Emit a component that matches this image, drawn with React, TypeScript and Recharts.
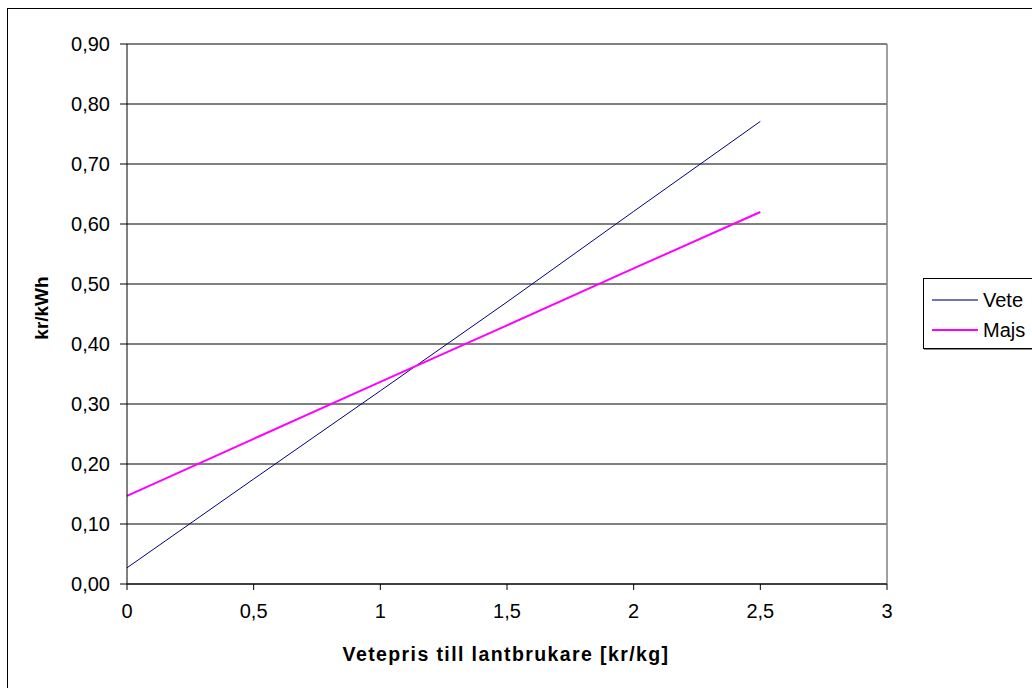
import React from "react";
import { LineChart, Line, XAxis, YAxis, CartesianGrid, ReferenceLine } from "recharts";

const xValues = [0, 0.5, 1, 1.5, 2, 2.5];
const vete = [0.027, 0.175, 0.322, 0.47, 0.621, 0.771];
const majs = [0.147, 0.242, 0.337, 0.431, 0.526, 0.62];
const xTicks = [0, 0.5, 1, 1.5, 2, 2.5, 3];
const yTicks = [0, 0.1, 0.2, 0.3, 0.4, 0.5, 0.6, 0.7, 0.8, 0.9];
const seriesNames = ["Vete", "Majs"];
const seriesColors = ["#000080", "#FF00FF"];

const data = xValues.map((x, i) => ({ x, Vete: vete[i], Majs: majs[i] }));

const FONT = "'Liberation Sans', Arial, sans-serif";

const fmtX = (v: number) => String(v).replace(".", ",");
const fmtY = (v: number) => v.toFixed(2).replace(".", ",");

const LegendBox = () => (
  <div
    style={{
      position: "absolute",
      left: 923,
      top: 278,
      width: 140,
      height: 71,
      border: "1px solid #000",
      boxShadow: "1px 1px 0 #888",
      background: "#fff",
      padding: "6px 0 0 8px",
      fontFamily: FONT,
      fontSize: 20,
      boxSizing: "border-box",
    }}
  >
    {seriesNames.map((name, i) => (
      <div key={name} style={{ display: "flex", alignItems: "center", height: 30 }}>
        <div
          style={{
            width: 46,
            height: 0,
            borderTop: `2px solid ${seriesColors[i]}`,
            opacity: i === 0 ? 0.55 : 1,
          }}
        />
        <span style={{ marginLeft: 5, color: "#000" }}>{name}</span>
      </div>
    ))}
  </div>
);

export default function App() {
  return (
    <div style={{ position: "absolute", left: 0, top: 0, width: 1032, height: 688, overflow: "hidden", background: "#fff" }}>
      <div style={{ position: "absolute", left: 7, top: 8, width: 1100, height: 800, border: "1px solid #000", boxSizing: "border-box" }} />
      <div style={{ position: "absolute", left: 0, top: 0 }}>
        <LineChart
          width={1032}
          height={688}
          data={data}
          margin={{ top: 44, right: 145, bottom: 14, left: 0 }}
        >
          <CartesianGrid vertical={false} stroke="#000" strokeWidth={1} />
          <XAxis
            dataKey="x"
            type="number"
            domain={[0, 3]}
            ticks={xTicks}
            tickFormatter={fmtX}
            height={90}
            stroke="#000"
            tickSize={6}
            tickMargin={14}
            tick={{ fill: "#000", fontSize: 20, fontFamily: FONT }}
            label={{
              content: (p: any) => {
                const vb = p.viewBox;
                return (
                  <text
                    x={vb.x + vb.width / 2 - 1}
                    y={vb.y + 77}
                    textAnchor="middle"
                    fontFamily={FONT}
                    fontWeight="bold"
                    fontSize={19.5}
                    letterSpacing={1.4}
                    fill="#000"
                  >
                    Vetepris till lantbrukare [kr/kg]
                  </text>
                );
              },
            }}
          />
          <YAxis
            type="number"
            domain={[0, 0.9]}
            ticks={yTicks}
            tickFormatter={fmtY}
            width={127}
            stroke="#000"
            tickSize={7}
            tickMargin={10}
            tick={{ fill: "#000", fontSize: 20, fontFamily: FONT }}
            label={{
              content: () => {
                const cx = 41;
                const cy = 308;
                return (
                  <text
                    x={cx}
                    y={cy}
                    transform={`rotate(-90 ${cx} ${cy})`}
                    textAnchor="middle"
                    dominantBaseline="central"
                    fontFamily={FONT}
                    fontWeight="bold"
                    fontSize={19}
                    fill="#000"
                  >
                    kr/kWh
                  </text>
                );
              },
            }}
          />
          <ReferenceLine y={0.9} stroke="#808080" strokeWidth={1.5} />
          <ReferenceLine x={3} stroke="#808080" strokeWidth={1.5} />
          <Line
            type="linear"
            dataKey="Vete"
            name={seriesNames[0]}
            stroke={seriesColors[0]}
            strokeWidth={1}
            dot={false}
            isAnimationActive={false}
          />
          <Line
            type="linear"
            dataKey="Majs"
            name={seriesNames[1]}
            stroke={seriesColors[1]}
            strokeWidth={2}
            dot={false}
            isAnimationActive={false}
          />
        </LineChart>
      </div>
      <LegendBox />
    </div>
  );
}
